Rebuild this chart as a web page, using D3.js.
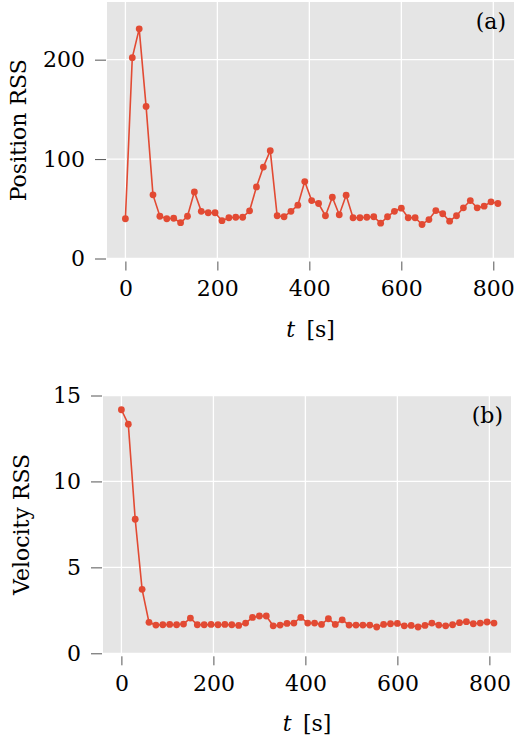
<!DOCTYPE html>
<html>
<head>
<meta charset="utf-8">
<script src="https://cdn.jsdelivr.net/npm/d3@7"></script>
<style>
  body { margin: 0; background: #fff; }
  svg { display: block; }
  svg text { font-family: "DejaVu Serif", "Liberation Serif", serif !important; }
</style>
</head>
<body>
<svg id="chart" width="514" height="740"></svg>
<script>
// sample times [s]
const times = [0, 15, 30, 45, 60, 75, 90, 105, 120, 135, 150, 165, 180, 195, 210,
  225, 240, 255, 270, 285, 300, 315, 330, 345, 360, 375, 390, 405, 420, 435,
  450, 465, 480, 495, 510, 525, 540, 555, 570, 585, 600, 615, 630, 645, 660,
  675, 690, 705, 720, 735, 750, 765, 780, 795, 810];

// panel (a)
const positionRss = [40, 202, 231, 153, 64, 42.5, 40, 40.5, 36, 42.5, 67, 47.5, 46, 46, 38,
  41, 41.5, 41.5, 48, 72, 92, 108.5, 43, 42, 47.5, 53.6, 77.4, 58.3, 55.3, 43,
  61.6, 44, 63.6, 41, 41, 41.5, 42, 35.5, 42, 47.5, 50.6, 41, 41, 34.2, 39.2,
  48.2, 45, 37.5, 43, 51, 58.3, 51, 52.6, 57, 55.3];

// panel (b)
const velocityRss = [14.17, 13.33, 7.8, 3.72, 1.8, 1.64, 1.66, 1.68, 1.66, 1.7, 2.05, 1.66, 1.66, 1.68, 1.66,
  1.68, 1.66, 1.62, 1.76, 2.09, 2.17, 2.17, 1.6, 1.64, 1.74, 1.76, 2.09, 1.76, 1.76, 1.68,
  2.01, 1.68, 1.95, 1.64, 1.64, 1.64, 1.64, 1.53, 1.68, 1.72, 1.74, 1.6, 1.62, 1.53, 1.62,
  1.76, 1.64, 1.6, 1.66, 1.78, 1.84, 1.72, 1.76, 1.82, 1.76];

const xTicks = [0, 200, 400, 600, 800];
const posTicks = [0, 100, 200];
const velTicks = [0, 5, 10, 15];

const svg = d3.select("#chart");
const red = "#E24A33";

function panel(opts) {
  const { left, right, top, bottom, xDomain, yDomain, values, yTicks, yLabel, tag } = opts;
  const x = d3.scaleLinear().domain(xDomain).range([left, right]);
  const y = d3.scaleLinear().domain(yDomain).range([bottom, top]);
  const g = svg.append("g");

  g.append("rect")
    .attr("x", left).attr("y", top)
    .attr("width", right - left).attr("height", bottom - top)
    .attr("fill", "#E5E5E5");

  // grid
  g.selectAll(".gx").data(xTicks).join("line")
    .attr("x1", d => x(d)).attr("x2", d => x(d))
    .attr("y1", top).attr("y2", bottom)
    .attr("stroke", "#fff").attr("stroke-width", 1.3);
  g.selectAll(".gy").data(yTicks).join("line")
    .attr("x1", left).attr("x2", right)
    .attr("y1", d => y(d)).attr("y2", d => y(d))
    .attr("stroke", "#fff").attr("stroke-width", 1.3);

  // axes (offset a little from the panel like the original)
  const xAxis = d3.axisBottom(x).tickValues(xTicks).tickSize(9).tickPadding(10);
  const xa = g.append("g").attr("transform", `translate(0,${bottom + 3})`).call(xAxis);
  const yAxis = d3.axisLeft(y).tickValues(yTicks).tickSize(11).tickPadding(10);
  const ya = g.append("g").attr("transform", `translate(${left - 1},0)`).call(yAxis);
  [xa, ya].forEach(a => {
    a.select(".domain").remove();
    a.selectAll(".tick line").attr("stroke", "#555").attr("stroke-width", 1);
    a.selectAll(".tick text")
      .attr("font-size", 22).attr("fill", "#000");
  });

  // series
  const line = d3.line().x((d, i) => x(times[i])).y(d => y(d));
  g.append("path").datum(values)
    .attr("d", line).attr("fill", "none")
    .attr("stroke", red).attr("stroke-width", 1.6);
  g.selectAll(".pt").data(values).join("circle")
    .attr("cx", (d, i) => x(times[i])).attr("cy", d => y(d))
    .attr("r", 3.4).attr("fill", red);

  // labels
  const xl = g.append("text")
    .attr("x", (left + right) / 2).attr("y", bottom + 78)
    .attr("text-anchor", "middle").attr("font-size", 22);
  xl.append("tspan").attr("font-style", "italic").text("t");
  xl.append("tspan").text("\u2009 [s]");

  g.append("text")
    .attr("transform", `translate(${opts.yLabelX},${(top + bottom) / 2}) rotate(-90)`)
    .attr("text-anchor", "middle").attr("font-size", 22)
    .text(yLabel);

  g.append("text")
    .attr("x", right - 8).attr("y", top + 27)
    .attr("text-anchor", "end").attr("font-size", 22)
    .text(tag);
}

panel({
  left: 107, right: 514, top: 2, bottom: 258.5,
  xDomain: [-40, 845], yDomain: [0, 258],
  values: positionRss, yTicks: posTicks,
  yLabel: "Position RSS", yLabelX: 26, tag: "(a)"
});

panel({
  left: 103, right: 511, top: 395.5, bottom: 653.3,
  xDomain: [-40, 847], yDomain: [0, 15],
  values: velocityRss, yTicks: velTicks,
  yLabel: "Velocity RSS", yLabelX: 29, tag: "(b)"
});
</script>
</body>
</html>
